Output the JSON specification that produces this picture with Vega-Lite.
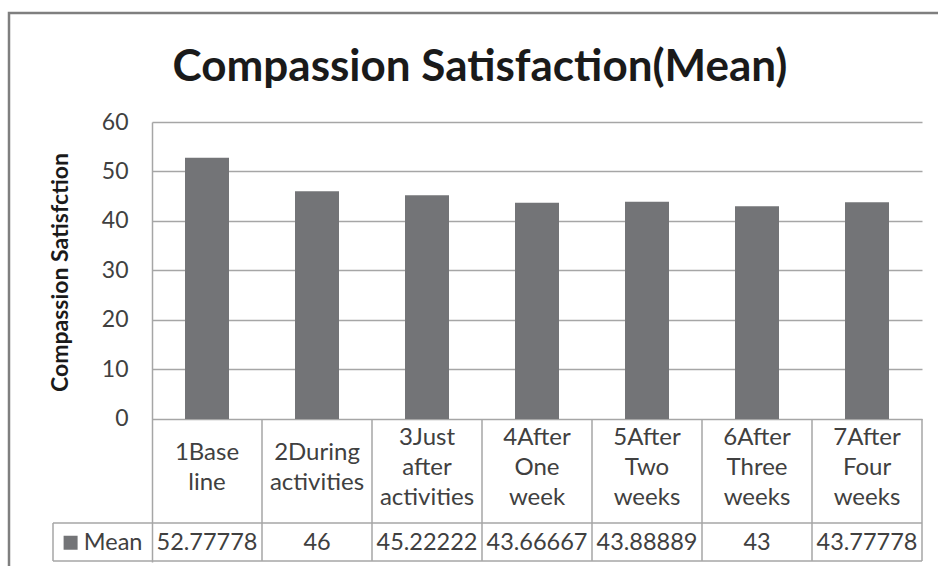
{
  "$schema": "https://vega.github.io/schema/vega-lite/v6.json",
  "autosize": {"type": "none"},
  "width": 770,
  "height": 440,
  "padding": {"left": 152, "top": 122, "right": 16, "bottom": 4},
  "background": "white",
  "config": {"view": {"stroke": null}, "font": "Lato", "scale": {"continuousPadding": 0}},
  "title": {
    "text": "Compassion Satisfaction(Mean)",
    "font": "Lato",
    "fontSize": 44,
    "fontWeight": "bold",
    "color": "#1a1a1a",
    "anchor": "middle",
    "frame": "group",
    "baseline": "alphabetic",
    "dx": -57,
    "offset": -113
  },
  "datasets": {
    "means": [
      {"col": 1, "period": "1Base line", "mean": 52.77778},
      {"col": 2, "period": "2During activities", "mean": 46},
      {"col": 3, "period": "3Just after activities", "mean": 45.22222},
      {"col": 4, "period": "4After One week", "mean": 43.66667},
      {"col": 5, "period": "5After Two weeks", "mean": 43.88889},
      {"col": 6, "period": "6After Three weeks", "mean": 43},
      {"col": 7, "period": "7After Four weeks", "mean": 43.77778}
    ],
    "series": [{"series": "Mean"}]
  },
  "layer": [
    {
      "data": {"values": [{}]},
      "mark": {"type": "rect", "fill": "transparent", "stroke": "#7f7f7f", "strokeWidth": 2.5},
      "encoding": {
        "x": {"datum": -0.8, "type": "quantitative", "scale": {"domain": [0.5, 7.5], "nice": false, "zero": false, "padding": 0}, "axis": null},
        "x2": {"datum": 7.8},
        "y": {"datum": 82.0, "type": "quantitative", "scale": {"domain": [-28.89, 60], "nice": false, "zero": false, "padding": 0}},
        "y2": {"datum": -31.5}
      }
    },
    {
      "data": {"name": "means"},
      "mark": {"type": "bar", "width": 44, "orient": "vertical", "color": "#737477"},
      "encoding": {
        "x": {"field": "col", "type": "quantitative", "scale": {"domain": [0.5, 7.5], "nice": false, "zero": false, "padding": 0}, "axis": null},
        "y": {
          "field": "mean",
          "type": "quantitative",
          "stack": null,
          "scale": {"domain": [-28.89, 60], "nice": false, "zero": false, "padding": 0},
          "axis": {
            "values": [0, 10, 20, 30, 40, 50, 60],
            "ticks": false,
            "grid": true,
            "gridColor": "#a6a6a6",
            "gridWidth": 1.5,
            "gridOpacity": 1,
            "domain": true,
            "domainColor": "#a6a6a6",
            "domainWidth": 1.5,
            "labelFont": "Lato",
            "labelFontSize": 23,
            "labelColor": "#404040",
            "labelPadding": 24,
            "title": "Compassion Satisfction",
            "titleFont": "Lato",
            "titleFontSize": 23,
            "titleFontWeight": "bold",
            "titleColor": "#1a1a1a",
            "titleX": -92,
            "titleY": 150,
            "titleAngle": -90,
            "titleAlign": "center",
            "titleBaseline": "middle"
          }
        },
        "y2": {"datum": 0}
      }
    },
    {
      "data": {"name": "means"},
      "mark": {"type": "rule", "color": "#a6a6a6", "strokeWidth": 1.5, "xOffset": 55},
      "encoding": {
        "x": {"field": "col", "type": "quantitative", "scale": {"domain": [0.5, 7.5], "nice": false, "zero": false, "padding": 0}, "axis": null},
        "y": {"datum": 0, "type": "quantitative", "scale": {"domain": [-28.89, 60], "nice": false, "zero": false, "padding": 0}},
        "y2": {"datum": -28.7}
      }
    },
    {
      "data": {"values": [{}]},
      "mark": {"type": "rule", "color": "#a6a6a6", "strokeWidth": 1.5},
      "encoding": {
        "x": {"datum": -0.4, "type": "quantitative", "scale": {"domain": [0.5, 7.5], "nice": false, "zero": false, "padding": 0}, "axis": null},
        "x2": {"datum": 7.5},
        "y": {"datum": -21, "type": "quantitative", "scale": {"domain": [-28.89, 60], "nice": false, "zero": false, "padding": 0}}
      }
    },
    {
      "data": {"values": [{}]},
      "mark": {"type": "rule", "color": "#a6a6a6", "strokeWidth": 1.5},
      "encoding": {
        "x": {"datum": -0.4, "type": "quantitative", "scale": {"domain": [0.5, 7.5], "nice": false, "zero": false, "padding": 0}, "axis": null},
        "x2": {"datum": 7.5},
        "y": {"datum": -28.7, "type": "quantitative", "scale": {"domain": [-28.89, 60], "nice": false, "zero": false, "padding": 0}}
      }
    },
    {
      "data": {"values": [{}]},
      "mark": {"type": "rule", "color": "#a6a6a6", "strokeWidth": 1.5},
      "encoding": {
        "x": {"datum": -0.4, "type": "quantitative", "scale": {"domain": [0.5, 7.5], "nice": false, "zero": false, "padding": 0}, "axis": null},
        "y": {"datum": -21, "type": "quantitative", "scale": {"domain": [-28.89, 60], "nice": false, "zero": false, "padding": 0}},
        "y2": {"datum": -28.7}
      }
    },
    {
      "data": {"name": "means"},
      "transform": [{"filter": "datum.col <= 2"}],
      "mark": {"type": "text", "lineBreak": " ", "font": "Lato", "fontSize": 24, "lineHeight": 30, "color": "#404040", "align": "center", "baseline": "middle"},
      "encoding": {
        "x": {"field": "col", "type": "quantitative", "scale": {"domain": [0.5, 7.5], "nice": false, "zero": false, "padding": 0}, "axis": null},
        "y": {"datum": -6.87, "type": "quantitative", "scale": {"domain": [-28.89, 60], "nice": false, "zero": false, "padding": 0}},
        "text": {"field": "period", "type": "nominal"}
      }
    },
    {
      "data": {"name": "means"},
      "transform": [{"filter": "datum.col > 2"}],
      "mark": {"type": "text", "lineBreak": " ", "font": "Lato", "fontSize": 24, "lineHeight": 30, "color": "#404040", "align": "center", "baseline": "middle"},
      "encoding": {
        "x": {"field": "col", "type": "quantitative", "scale": {"domain": [0.5, 7.5], "nice": false, "zero": false, "padding": 0}, "axis": null},
        "y": {"datum": -3.84, "type": "quantitative", "scale": {"domain": [-28.89, 60], "nice": false, "zero": false, "padding": 0}},
        "text": {"field": "period", "type": "nominal"}
      }
    },
    {
      "data": {"name": "means"},
      "mark": {"type": "text", "font": "Lato", "fontSize": 23.5, "color": "#404040", "align": "center", "baseline": "middle"},
      "encoding": {
        "x": {"field": "col", "type": "quantitative", "scale": {"domain": [0.5, 7.5], "nice": false, "zero": false, "padding": 0}, "axis": null},
        "y": {"datum": -25.0, "type": "quantitative", "scale": {"domain": [-28.89, 60], "nice": false, "zero": false, "padding": 0}},
        "text": {"field": "mean", "type": "nominal"}
      }
    },
    {
      "data": {"name": "series"},
      "mark": {"type": "point", "shape": "square", "filled": true, "size": 196, "color": "#737477", "opacity": 1},
      "encoding": {
        "x": {"datum": -0.24, "type": "quantitative", "scale": {"domain": [0.5, 7.5], "nice": false, "zero": false, "padding": 0}, "axis": null},
        "y": {"datum": -25.0, "type": "quantitative", "scale": {"domain": [-28.89, 60], "nice": false, "zero": false, "padding": 0}}
      }
    },
    {
      "data": {"name": "series"},
      "mark": {"type": "text", "font": "Lato", "fontSize": 23.5, "color": "#404040", "align": "left", "baseline": "middle"},
      "encoding": {
        "x": {"datum": -0.12, "type": "quantitative", "scale": {"domain": [0.5, 7.5], "nice": false, "zero": false, "padding": 0}, "axis": null},
        "y": {"datum": -25.0, "type": "quantitative", "scale": {"domain": [-28.89, 60], "nice": false, "zero": false, "padding": 0}},
        "text": {"field": "series", "type": "nominal"}
      }
    }
  ]
}
